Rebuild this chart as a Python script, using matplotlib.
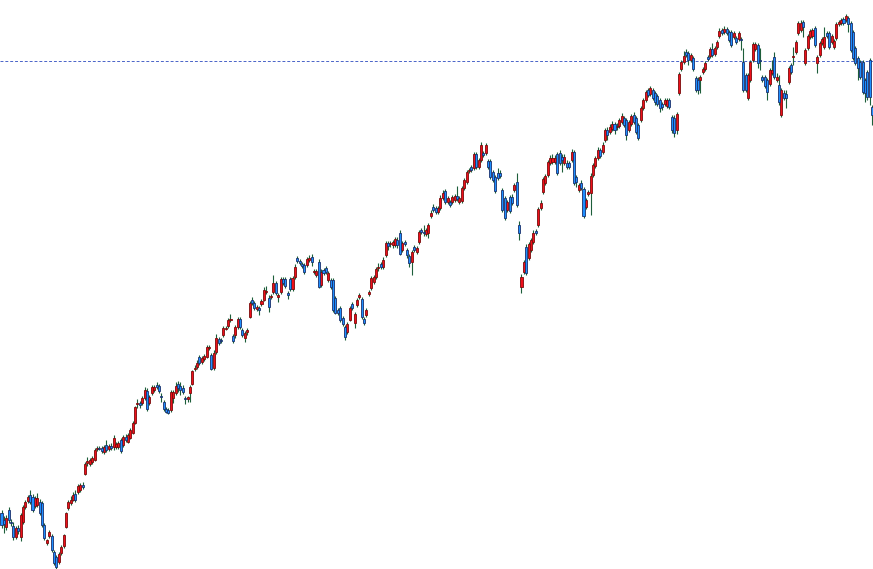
import numpy as np
from matplotlib import pyplot as plt

# weekly candles (price units = 600 - pixel row)
opens = [87, 80, 73, 90, 78, 74, 63, 72, 63, 78, 93, 99, 105, 103, 94, 95, 98, 97, 75, 57, 64, 64, 48, 43, 38, 47, 54, 73, 92, 97, 100,
         106, 108, 110, 115, 126, 137, 136, 138, 140, 151, 152, 152, 148, 155, 151, 154, 153, 153, 153, 160, 155, 163, 158, 162, 167, 177, 196, 197, 197, 202, 209,
         197, 207, 210, 215, 214, 204, 198, 191, 190, 190, 202, 207, 216, 214, 212, 202, 201, 207, 216, 231, 233, 243, 238, 241, 243, 252, 245, 232, 248, 261, 260,
         265, 271, 274, 280, 264, 265, 273, 281, 270, 262, 268, 283, 300, 297, 291, 292, 296, 300, 308, 302, 303, 308, 317, 303, 308, 321, 321, 307, 321, 311, 323,
         342, 339, 336, 335, 335, 340, 343, 328, 325, 338, 315, 330, 332, 320, 320, 320, 302, 290, 292, 282, 273, 268, 280, 296, 277, 295, 303, 301, 281, 285,
         306, 312, 318, 323, 332, 336, 333, 345, 357, 356, 355, 355, 360, 367, 350, 358, 350, 344, 338, 353, 348, 358, 370, 368, 366, 367, 384, 393, 392,
         388, 392, 402, 409, 398, 398, 398, 400, 404, 398, 399, 412, 418, 429, 433, 432, 446, 433, 440, 447, 447, 439, 439, 428, 423, 427, 427, 410, 402, 390, 403, 403,
         410, 418, 375, 313, 328, 353, 342, 350, 358, 369, 375, 392, 408, 417, 425, 437, 438, 438, 446, 447, 443, 437, 437, 437, 440, 448, 423, 410, 417, 411, 393, 406, 407,
         425, 434, 442, 450, 448, 460, 470, 468, 471, 476, 473, 474, 478, 482, 480, 470, 476, 485, 482, 475, 480, 492, 500, 510, 506, 510, 507, 504, 500,
         496, 496, 494, 500, 483, 482, 470, 507, 531, 538, 548, 547, 540, 542, 522, 520, 520, 528, 531, 543, 544, 551, 546, 553, 564, 570, 568, 571, 568,
         568, 563, 562, 561, 561, 538, 525, 502, 520, 540, 551, 555, 540, 523, 523, 520, 516, 527, 543, 520, 515, 485, 507, 506, 518, 535, 543, 548, 567,
         570, 578, 537, 552, 563, 564, 572, 537, 545, 557, 553, 567, 567, 558, 553, 562, 576, 577, 581, 580, 582, 577, 568, 552, 542, 538, 538, 520, 528, 540, 493]

highs = [90, 84, 85, 93, 81, 78, 74, 75, 87, 95, 100, 105, 110, 106, 104, 107, 101, 99, 77, 61, 70, 66, 50, 45, 48, 55, 66, 88, 100, 104, 108,
         110, 116, 117, 118, 138, 143, 142, 144, 152, 154, 154, 154, 155, 160, 156, 157, 165, 158, 159, 162, 165, 166, 167, 172, 179, 194, 201, 199, 204, 213, 212,
         205, 215, 215, 218, 216, 207, 200, 193, 192, 210, 210, 218, 219, 218, 215, 204, 204, 215, 230, 235, 240, 245, 244, 246, 255, 255, 247, 250, 266, 263, 262,
         274, 274, 282, 286, 266, 275, 283, 283, 272, 269, 272, 299, 303, 299, 295, 294, 301, 313, 314, 305, 306, 325, 319, 307, 323, 323, 323, 309, 323, 324, 336,
         344, 341, 338, 337, 343, 345, 346, 331, 331, 341, 331, 332, 334, 329, 322, 322, 304, 292, 294, 284, 275, 278, 294, 298, 288, 302, 307, 303, 283, 292,
         310, 324, 325, 333, 337, 338, 343, 359, 359, 359, 360, 363, 363, 370, 359, 360, 352, 346, 350, 355, 354, 370, 372, 375, 372, 377, 390, 396, 394,
         394, 405, 410, 411, 404, 400, 405, 406, 414, 404, 414, 422, 430, 432, 435, 448, 448, 442, 458, 449, 457, 441, 441, 430, 425, 432, 430, 412, 404, 400, 405, 406,
         417, 427, 379, 326, 340, 356, 358, 362, 370, 371, 393, 400, 423, 426, 440, 445, 446, 445, 448, 450, 446, 446, 440, 439, 451, 450, 425, 417, 420, 413, 402, 410, 427,
         437, 444, 453, 452, 458, 472, 473, 476, 479, 478, 477, 482, 487, 484, 482, 480, 486, 488, 484, 477, 494, 502, 510, 512, 514, 512, 509, 506, 502,
         498, 502, 502, 502, 485, 485, 488, 528, 540, 549, 551, 549, 547, 544, 524, 523, 525, 533, 539, 545, 553, 557, 554, 560, 572, 572, 574, 573, 570,
         570, 569, 564, 569, 563, 552, 527, 527, 540, 558, 558, 557, 552, 525, 525, 522, 532, 540, 548, 527, 525, 512, 510, 510, 534, 537, 553, 560, 579,
         580, 580, 552, 566, 571, 572, 574, 545, 559, 563, 573, 569, 569, 566, 561, 578, 580, 582, 583, 586, 584, 579, 570, 554, 544, 540, 540, 522, 530, 542, 495]

lows = [72, 67, 70, 77, 74, 60, 61, 66, 59, 76, 91, 97, 96, 88, 92, 93, 85, 73, 60, 55, 62, 48, 35, 31, 36, 45, 52, 72, 90, 95, 99,
        98, 106, 108, 111, 125, 134, 134, 136, 139, 149, 150, 147, 146, 148, 149, 150, 150, 151, 151, 147, 153, 158, 157, 161, 166, 176, 192, 192, 195, 200, 189,
        195, 205, 208, 211, 207, 198, 189, 187, 186, 188, 197, 205, 208, 205, 206, 196, 198, 198, 215, 229, 231, 235, 236, 239, 242, 250, 230, 230, 246, 255, 257,
        263, 270, 272, 278, 257, 262, 271, 271, 263, 258, 265, 282, 295, 290, 289, 285, 294, 299, 306, 288, 301, 306, 305, 298, 306, 315, 312, 301, 309, 309, 321,
        337, 335, 332, 326, 333, 338, 334, 326, 323, 312, 313, 325, 326, 318, 311, 288, 286, 285, 278, 274, 260, 266, 279, 290, 272, 293, 301, 281, 275, 283,
        304, 310, 316, 321, 329, 331, 331, 343, 350, 353, 352, 353, 352, 345, 348, 354, 342, 333, 325, 348, 346, 356, 366, 364, 364, 362, 382, 388, 386,
        386, 390, 400, 396, 396, 393, 396, 398, 399, 396, 397, 410, 416, 427, 428, 430, 431, 431, 438, 443, 445, 431, 421, 418, 407, 420, 422, 388, 380, 388, 387, 395,
        408, 393, 360, 307, 326, 325, 340, 348, 356, 365, 373, 390, 406, 415, 423, 435, 436, 436, 425, 435, 428, 435, 431, 431, 438, 415, 413, 408, 410, 382, 391, 404, 385,
        423, 432, 440, 442, 446, 458, 460, 466, 469, 466, 470, 472, 476, 473, 460, 468, 474, 476, 466, 460, 478, 490, 498, 503, 504, 500, 495, 494, 488,
        490, 494, 492, 491, 467, 463, 466, 505, 529, 536, 543, 535, 538, 529, 508, 506, 507, 526, 529, 539, 542, 543, 544, 551, 562, 565, 566, 565, 558,
        553, 561, 556, 559, 550, 508, 508, 500, 518, 538, 549, 532, 530, 518, 512, 500, 514, 525, 521, 518, 495, 483, 500, 492, 516, 526, 535, 546, 565,
        568, 563, 535, 550, 561, 562, 553, 527, 543, 555, 551, 562, 551, 556, 551, 560, 574, 575, 575, 578, 568, 548, 540, 535, 520, 521, 506, 498, 500, 495, 475]

closes = [75, 76, 82, 80, 77, 63, 72, 69, 85, 93, 98, 103, 98, 90, 102, 102, 87, 75, 62, 60, 68, 50, 37, 33, 46, 53, 65, 87, 98, 100, 105,
          100, 114, 115, 113, 136, 139, 140, 142, 150, 152, 151, 149, 153, 150, 154, 152, 162, 156, 157, 149, 163, 160, 165, 170, 177, 193, 197, 195, 202, 210, 191,
          203, 213, 213, 213, 209, 203, 191, 188, 187, 208, 208, 214, 212, 210, 208, 201, 203, 213, 229, 232, 237, 237, 242, 244, 253, 253, 231, 247, 262, 257, 259,
          272, 272, 280, 281, 259, 273, 281, 273, 265, 267, 270, 297, 297, 292, 293, 290, 299, 310, 309, 293, 304, 317, 307, 305, 321, 317, 314, 305, 311, 322, 333,
          339, 337, 334, 328, 341, 342, 338, 329, 329, 313, 328, 327, 328, 327, 313, 290, 287, 287, 280, 276, 263, 276, 292, 292, 286, 300, 305, 283, 277, 290,
          308, 322, 323, 331, 333, 333, 340, 357, 354, 357, 358, 361, 355, 346, 357, 356, 345, 337, 348, 350, 352, 368, 368, 367, 370, 375, 387, 390, 388,
          392, 402, 407, 398, 402, 395, 403, 404, 401, 402, 412, 420, 428, 430, 430, 446, 433, 440, 455, 445, 455, 433, 423, 420, 409, 422, 424, 390, 382, 398, 389, 397,
          415, 395, 367, 323, 338, 327, 356, 360, 367, 367, 391, 397, 421, 424, 438, 442, 442, 442, 427, 437, 440, 443, 433, 433, 448, 417, 418, 415, 412, 384, 400, 408, 424,
          435, 442, 450, 444, 455, 470, 465, 473, 476, 470, 474, 480, 484, 475, 465, 478, 484, 478, 468, 462, 492, 500, 508, 505, 512, 502, 498, 496, 492,
          493, 500, 500, 493, 470, 467, 486, 526, 538, 544, 545, 540, 545, 531, 510, 510, 523, 531, 537, 541, 551, 545, 552, 558, 569, 567, 571, 567, 560,
          555, 567, 558, 567, 560, 510, 510, 525, 538, 556, 556, 537, 539, 520, 514, 508, 530, 530, 523, 523, 498, 510, 502, 502, 532, 528, 544, 558, 577,
          577, 573, 550, 564, 569, 570, 555, 543, 557, 561, 563, 564, 553, 564, 559, 576, 578, 580, 577, 584, 576, 550, 542, 537, 532, 523, 508, 507, 503, 503, 485]

ref_level = 539

o = np.array(opens, dtype=float)
h = np.array(highs, dtype=float)
l = np.array(lows, dtype=float)
c = np.array(closes, dtype=float)
x = np.arange(len(o))
up = c >= o

bottom = np.minimum(o, c)
height = np.maximum(np.abs(c - o), 1.0)

fig = plt.figure(figsize=(8.73, 5.69), dpi=100)
ax = fig.add_axes([0, 0, 1, 1])

ax.vlines(x, l, h, color='#1d5e3a', linewidth=0.8, zorder=1)
ax.bar(x[up], height[up], bottom=bottom[up], width=0.85,
       color='#ee0f1a', edgecolor='#7a0a0a', linewidth=0.6, zorder=2)
ax.bar(x[~up], height[~up], bottom=bottom[~up], width=0.85,
       color='#1e8fff', edgecolor='#1b2f6b', linewidth=0.6, zorder=2)

ax.axhline(ref_level, color='#4a64c8', linewidth=0.7, linestyle=(0, (3, 2)), zorder=0)

ax.set_xlim(-0.63, len(o) - 0.63)
ax.set_ylim(31, 600)
ax.axis('off')

fig.savefig('out.png', dpi=100)
